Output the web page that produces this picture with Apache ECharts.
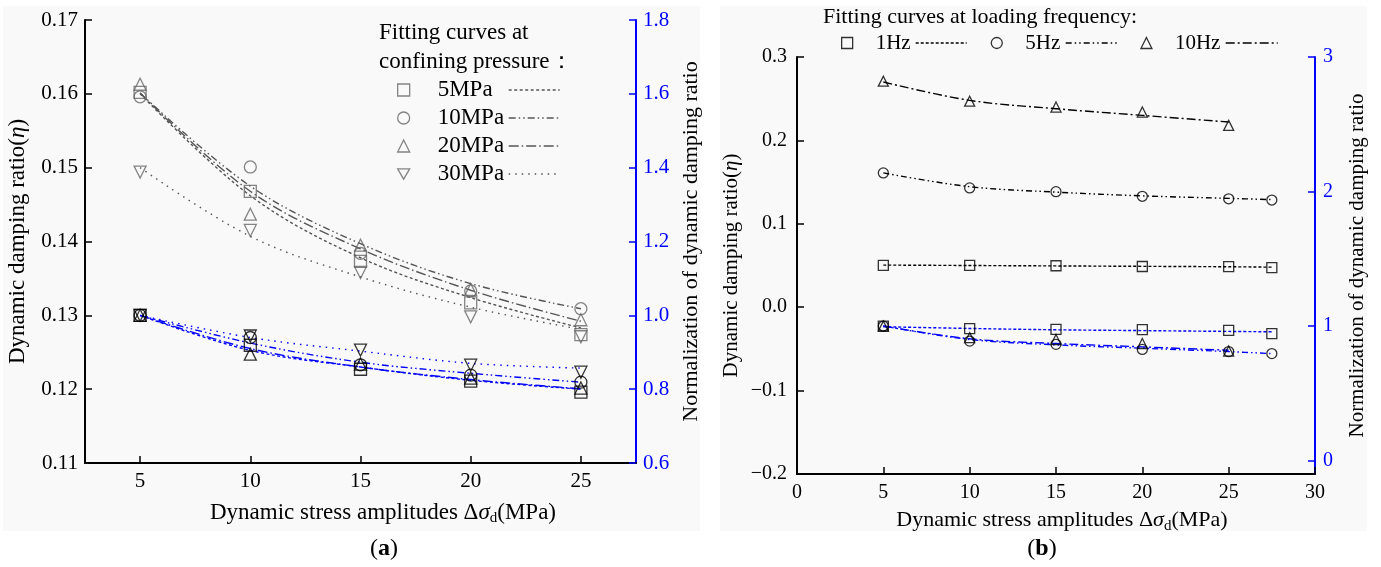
<!DOCTYPE html>
<html><head><meta charset="utf-8">
<script src="https://cdn.jsdelivr.net/npm/echarts@6/dist/echarts.min.js"></script>
<style>html,body{margin:0;padding:0;background:#fff}#c{width:1381px;height:567px}</style>
</head><body><div id="c"></div>
<script>
// ---------------- data: panel (a) ----------------
const stressA = [5, 10, 15, 20, 25];
const pressureNames = ['5MPa', '10MPa', '20MPa', '30MPa'];
// measured dynamic damping ratio (markers)
const eta5MPa  = [0.1602, 0.1468, 0.1373, 0.1317, 0.1274];
const eta10MPa = [0.1596, 0.1501, 0.1384, 0.1333, 0.1309];
const eta20MPa = [0.1613, 0.1437, 0.1395, 0.1335, 0.1294];
const eta30MPa = [0.1494, 0.1415, 0.1358, 0.1298, 0.1271];
// fitting curves of damping ratio
const fitEta5MPa  = [0.1600, 0.1462, 0.1378, 0.1324, 0.1283];
const fitEta10MPa = [0.1601, 0.1475, 0.1397, 0.1343, 0.1309];
const fitEta20MPa = [0.1601, 0.1468, 0.1390, 0.1334, 0.1292];
const fitEta30MPa = [0.1500, 0.1407, 0.1352, 0.1311, 0.1281];
// normalized damping ratio (markers)
const norm5MPa  = [1.000, 0.919, 0.854, 0.822, 0.792];
const norm10MPa = [1.000, 0.940, 0.866, 0.838, 0.819];
const norm20MPa = [1.000, 0.895, 0.868, 0.830, 0.803];
const norm30MPa = [1.000, 0.944, 0.906, 0.865, 0.846];
// normalized fitting curves
const fitNorm5MPa  = [1.000, 0.905, 0.860, 0.824, 0.800];
const fitNorm10MPa = [1.000, 0.925, 0.873, 0.843, 0.819];
const fitNorm20MPa = [1.000, 0.910, 0.860, 0.826, 0.801];
const fitNorm30MPa = [1.000, 0.940, 0.903, 0.870, 0.857];
const ticksA = [5, 10, 15, 20, 25];

// ---------------- data: panel (b) ----------------
const stressB = [5, 10, 15, 20, 25, 27.5];
const stressB10 = [5, 10, 15, 20, 25];
const freqNames = ['1Hz', '5Hz', '10Hz'];
const eta1Hz  = [0.0502, 0.0501, 0.0497, 0.0488, 0.0486, 0.0475];
const eta5Hz  = [0.1610, 0.1430, 0.1385, 0.1330, 0.1300, 0.1285];
const eta10Hz = [0.2710, 0.2470, 0.2400, 0.2340, 0.2180];
const fitEta1Hz  = [0.0505, 0.0500, 0.0495, 0.0490, 0.0485, 0.0480];
const fitEta5Hz  = [0.1610, 0.1445, 0.1380, 0.1335, 0.1305, 0.1290];
const fitEta10Hz = [0.2700, 0.2480, 0.2380, 0.2300, 0.2220];
const norm1Hz  = [1.000, 0.981, 0.975, 0.974, 0.967, 0.944];
const norm5Hz  = [1.000, 0.888, 0.864, 0.826, 0.810, 0.795];
const norm10Hz = [1.000, 0.914, 0.900, 0.870, 0.814];
const fitNorm1Hz  = [0.995, 0.982, 0.972, 0.966, 0.960, 0.957];
const fitNorm5Hz  = [1.000, 0.900, 0.860, 0.835, 0.810, 0.795];
const fitNorm10Hz = [1.000, 0.905, 0.870, 0.845, 0.820];
const ticksBRight = [0, 1, 2, 3];

// ---------------- styling ----------------
const FONT = "'Liberation Serif', 'Times New Roman', serif";
const BLUE = '#0000ff';
const GRAY_M = '#666666';
const GRAY_L = '#555555';
const DOWN_TRI = 'path://M0,0L2,0L1,1.732Z';

const pairs = (xs, ys) => xs.map((x, i) => [x, ys[i]]);
const minusFmt = (s) => s.replace('-', '\u2212');

const symA = ['rect', 'circle', 'triangle', DOWN_TRI];
const dashA = [[3, 2.5], [7, 3, 1.5, 3, 1.5, 3], [10, 3, 1.5, 3], [1.5, 5]];
const etaA = [eta5MPa, eta10MPa, eta20MPa, eta30MPa];
const fitEtaA = [fitEta5MPa, fitEta10MPa, fitEta20MPa, fitEta30MPa];
const normA = [norm5MPa, norm10MPa, norm20MPa, norm30MPa];
const fitNormA = [fitNorm5MPa, fitNorm10MPa, fitNorm20MPa, fitNorm30MPa];

const symB = ['rect', 'circle', 'triangle'];
const dashB = [[3, 2], [6, 3, 1.5, 3, 1.5, 3], [9, 3, 2, 3]];
const xsB = [stressB, stressB, stressB10];
const etaB = [eta1Hz, eta5Hz, eta10Hz];
const fitEtaB = [fitEta1Hz, fitEta5Hz, fitEta10Hz];
const normB = [norm1Hz, norm5Hz, norm10Hz];
const fitNormB = [fitNorm1Hz, fitNorm5Hz, fitNorm10Hz];

const series = [];
function addSet(name, xi, yi, xs, ys, symbol, size, markerColor) {
  series.push({
    name, type: 'scatter', xAxisIndex: xi, yAxisIndex: yi, data: pairs(xs, ys),
    symbol, symbolSize: size, z: 5,
    itemStyle: { color: 'rgba(0,0,0,0)', borderColor: markerColor, borderWidth: 1.3 }
  });
}
function addCurve(name, xi, yi, xs, ys, color, dash) {
  series.push({
    name, type: 'line', xAxisIndex: xi, yAxisIndex: yi, data: pairs(xs, ys),
    smooth: 0.35, symbol: 'none', showSymbol: false, z: 3, silent: true,
    itemStyle: { color: 'rgba(0,0,0,0)', borderWidth: 0 },
    lineStyle: { color, width: 1.4, type: dash }
  });
}
pressureNames.forEach((p, k) => {
  addCurve('fit ' + p, 0, 0, stressA, fitEtaA[k], GRAY_L, dashA[k]);
  addCurve('normfit ' + p, 0, 1, stressA, fitNormA[k], BLUE, dashA[k]);
});
pressureNames.forEach((p, k) => {
  addSet(p, 0, 0, stressA, etaA[k], symA[k], 12, GRAY_M);
  addSet('norm ' + p, 0, 1, stressA, normA[k], symA[k], 12, '#000');
});
freqNames.forEach((f, k) => {
  addCurve('fit ' + f, 1, 2, xsB[k], fitEtaB[k], '#000', dashB[k]);
  addCurve('normfit ' + f, 1, 3, xsB[k], fitNormB[k], BLUE, dashB[k]);
});
freqNames.forEach((f, k) => {
  addSet(f, 1, 2, xsB[k], etaB[k], symB[k], 10, '#000');
  addSet('norm ' + f, 1, 3, xsB[k], normB[k], symB[k], 10, '#000');
});

const tickFontA = { fontFamily: FONT, fontSize: 21, color: '#000' };
const tickFontB = { fontFamily: FONT, fontSize: 20, color: '#000' };
const mkXRich = (fs) => ({
  t: { fontFamily: FONT, fontSize: fs, color: '#000' },
  s: { fontFamily: FONT, fontSize: fs, fontStyle: 'italic', color: '#000' },
  d: { fontFamily: FONT, fontSize: Math.round(fs * 0.66), color: '#000', padding: [12, 0, 0, 0] }
});
const mkYRich = (fs) => ({
  t: { fontFamily: FONT, fontSize: fs, color: '#000' },
  i: { fontFamily: FONT, fontSize: fs, fontStyle: 'italic', color: '#000' }
});
const X_NAME = '{t|Dynamic stress amplitudes Δ}{s|σ}{d|d}{t|(MPa)}';
const Y_NAME = '{t|Dynamic damping ratio(}{i|η}{t|)}';
const axisBlack = { show: true, onZero: false, lineStyle: { color: '#000', width: 2 } };
const axisBlue = { show: true, onZero: false, lineStyle: { color: BLUE, width: 2 } };

const legendTextA = { fontFamily: FONT, fontSize: 23, color: '#000', lineHeight: 28 };
const legendTextB = { fontFamily: FONT, fontSize: 21, color: '#000', lineHeight: 28 };
const hideSym = { opacity: 0 };

const option = {
  animation: false,
  backgroundColor: '#ffffff',
  graphic: [
    { type: 'rect', z: -10, shape: { x: 3, y: 6, width: 697, height: 525 }, style: { fill: '#f9f9f9' } },
    { type: 'rect', z: -10, shape: { x: 720, y: 6, width: 647, height: 525 }, style: { fill: '#f9f9f9' } },
    { type: 'text', x: 379, y: 33, style: { text: 'Fitting curves at', font: '23px ' + FONT, fill: '#000', verticalAlign: 'middle' } },
    { type: 'text', x: 379, y: 62, style: { text: 'confining pressure：', font: '23px ' + FONT, fill: '#000', verticalAlign: 'middle' } },
    { type: 'text', x: 823, y: 17, style: { text: 'Fitting curves at loading frequency:', font: '22px ' + FONT, fill: '#000', verticalAlign: 'middle' } },
    { type: 'text', x: 384, y: 549, style: { text: '{n|(}{b|a}{n|)}', align: 'center', verticalAlign: 'middle',
      rich: { n: { fontFamily: FONT, fontSize: 24, fill: '#000' }, b: { fontFamily: FONT, fontSize: 24, fontWeight: 'bold', fill: '#000' } } } },
    { type: 'text', x: 1042, y: 549, style: { text: '{n|(}{b|b}{n|)}', align: 'center', verticalAlign: 'middle',
      rich: { n: { fontFamily: FONT, fontSize: 24, fill: '#000' }, b: { fontFamily: FONT, fontSize: 24, fontWeight: 'bold', fill: '#000' } } } }
  ],
  legend: [
    { data: pressureNames, orient: 'vertical', left: 397, top: 76, padding: 0, itemWidth: 12, itemHeight: 12, itemGap: 0,
      selectedMode: false, textStyle: Object.assign({ padding: [0, 0, 0, 23] }, legendTextA), itemStyle: { borderWidth: 1.3 } },
    { data: pressureNames.map(p => 'fit ' + p), orient: 'vertical', left: 508, top: 76, padding: 0, itemWidth: 51, itemHeight: 12, itemGap: 0,
      selectedMode: false, formatter: () => ' ', textStyle: legendTextA, lineStyle: { width: 1.4 }, itemStyle: hideSym },
    { data: freqNames, orient: 'horizontal', left: 841, top: 29, padding: 0, itemWidth: 11, itemHeight: 11, itemGap: 80,
      selectedMode: false, textStyle: Object.assign({ padding: [0, 0, 0, 18] }, legendTextB), itemStyle: { borderWidth: 1.3 } },
    { data: ['fit 1Hz'], left: 915, top: 29, padding: 0, itemWidth: 51, itemHeight: 11, selectedMode: false, formatter: () => ' ', textStyle: legendTextB, lineStyle: { width: 1.4 }, itemStyle: hideSym },
    { data: ['fit 5Hz'], left: 1065, top: 29, padding: 0, itemWidth: 52, itemHeight: 11, selectedMode: false, formatter: () => ' ', textStyle: legendTextB, lineStyle: { width: 1.4 }, itemStyle: hideSym },
    { data: ['fit 10Hz'], left: 1225, top: 29, padding: 0, itemWidth: 52, itemHeight: 11, selectedMode: false, formatter: () => ' ', textStyle: legendTextB, lineStyle: { width: 1.4 }, itemStyle: hideSym }
  ],
  grid: [
    { left: 85, top: 20, width: 551, height: 443 },
    { left: 797, top: 57, width: 518, height: 417 }
  ],
  xAxis: [
    { type: 'value', gridIndex: 0, min: 2.5, max: 27.5,
      axisLine: axisBlack, splitLine: { show: false },
      axisTick: { show: true, inside: true, length: 7, customValues: ticksA, lineStyle: { color: '#000', width: 1.5 } },
      axisLabel: Object.assign({ customValues: ticksA, margin: 8 }, tickFontA),
      name: X_NAME, nameLocation: 'middle', nameGap: 36,
      nameTextStyle: { rich: mkXRich(23), padding: [0, 0, 0, 45] } },
    { type: 'value', gridIndex: 1, min: 0, max: 30, interval: 5,
      axisLine: axisBlack, splitLine: { show: false },
      axisTick: { show: true, inside: true, length: 7, lineStyle: { color: '#000', width: 1.5 } },
      axisLabel: Object.assign({ margin: 9 }, tickFontB),
      name: X_NAME, nameLocation: 'middle', nameGap: 33,
      nameTextStyle: { rich: mkXRich(22), padding: [0, 0, 0, 12] } }
  ],
  yAxis: [
    { type: 'value', gridIndex: 0, position: 'left', min: 0.11, max: 0.17, interval: 0.01,
      axisLine: axisBlack, splitLine: { show: false },
      axisTick: { show: true, inside: true, length: 7, lineStyle: { color: '#000', width: 1.5 } },
      axisLabel: Object.assign({ margin: 7, formatter: v => v.toFixed(2) }, tickFontA),
      name: Y_NAME, nameLocation: 'middle', nameRotate: 90, nameGap: 56, nameTextStyle: { rich: mkYRich(23) } },
    { type: 'value', gridIndex: 0, position: 'right', min: 0.6, max: 1.8, interval: 0.2,
      axisLine: axisBlue, splitLine: { show: false },
      axisTick: { show: true, inside: true, length: 7, lineStyle: { color: BLUE, width: 1.5 } },
      axisLabel: Object.assign({}, tickFontA, { color: BLUE, margin: 7, formatter: v => v.toFixed(1) }),
      name: 'Normalization of dynamic damping ratio', nameLocation: 'middle', nameRotate: 90, nameGap: 44,
      nameTextStyle: { fontFamily: FONT, fontSize: 22, color: '#000' } },
    { type: 'value', gridIndex: 1, position: 'left', min: -0.2, max: 0.3, interval: 0.1,
      axisLine: axisBlack, splitLine: { show: false },
      axisTick: { show: true, inside: true, length: 7, lineStyle: { color: '#000', width: 1.5 } },
      axisLabel: Object.assign({ margin: 10, formatter: v => minusFmt(v.toFixed(1)) }, tickFontB),
      name: Y_NAME, nameLocation: 'middle', nameRotate: 90, nameGap: 55, nameTextStyle: { rich: mkYRich(21) } },
    { type: 'value', gridIndex: 1, position: 'right', min: -0.1, max: 3,
      axisLine: axisBlue, splitLine: { show: false },
      axisTick: { show: true, inside: true, length: 7, customValues: ticksBRight, lineStyle: { color: BLUE, width: 1.5 } },
      axisLabel: Object.assign({}, tickFontB, { color: BLUE, margin: 8, customValues: ticksBRight, formatter: v => String(Math.round(v)) }),
      name: 'Normalization of dynamic damping ratio', nameLocation: 'middle', nameRotate: 90, nameGap: 32,
      nameTextStyle: { fontFamily: FONT, fontSize: 21, color: '#000' } }
  ],
  series
};
const chart = echarts.init(document.getElementById('c'), null, { renderer: 'canvas' });
chart.setOption(option);
</script></body></html>
